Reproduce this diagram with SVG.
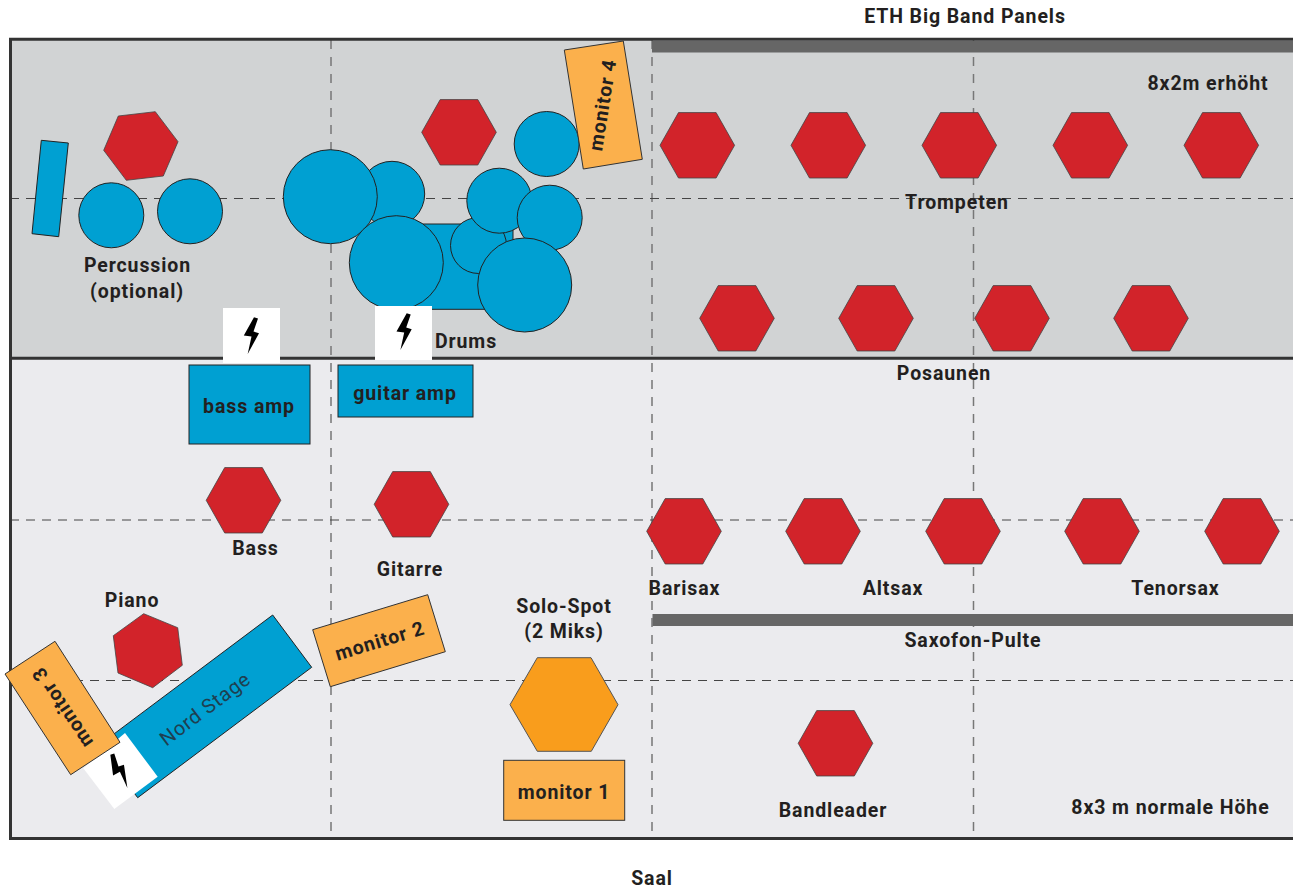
<svg xmlns="http://www.w3.org/2000/svg" width="1293" height="888" viewBox="0 0 1293 888">
<style>
.t{font-family:"Roboto","Liberation Sans",sans-serif;font-weight:700;font-size:19.500px;fill:#231f20;letter-spacing:.9px;text-anchor:middle}
.r{fill:#d2232a;stroke:#444;stroke-width:.8}
.b{fill:#00a0d2;stroke:#222;stroke-width:1}
.o{fill:#fbb04c;stroke:#333;stroke-width:1}
.gv{stroke:#777;stroke-width:1.500;stroke-dasharray:9 8;fill:none}
.gh{stroke:#444;stroke-width:1;stroke-dasharray:9 7;fill:none}
.k{fill:#666}
.w{fill:#fff}
</style>
<defs>
<polygon id="hex" class="r" points="-18.800,-32.700 18.800,-32.700 37.300,0 18.800,32.700 -18.800,32.700 -37.300,0"/>
<polygon id="bolt" fill="#000" points="4,-19.700 8,-18.500 3.500,-5.500 9,-3.700 -2.300,17 1.500,-.5 -6.200,-1.600"/>
</defs>
<rect id="upper" x="10" y="39" width="1290" height="319" fill="#d1d3d4"/>
<rect id="lower" x="10" y="358" width="1290" height="480" fill="#ebebee"/>
<g id="grid">
<path class="gv" d="M331 40V838M652 40V838M973.500 40V838"/>
<path class="gh" d="M10 198.500H1293M10 520H1293M10 680.500H1293"/>
</g>
<path id="frame" d="M1293 39.300H10.500V838.500H1293M10 358.300H1293" fill="none" stroke="#333" stroke-width="3"/>
<rect id="bar1" class="k" x="652" y="41" width="641" height="11.500"/>
<rect id="bar2" class="k" x="652.500" y="614" width="640.500" height="12"/>

<g id="percussion">
<polygon class="b" points="41.300,140.300 68.300,143 58.700,236.700 32,233.700"/>
<circle class="b" cx="111.300" cy="215.300" r="32.500"/>
<circle class="b" cx="190" cy="211.300" r="32.500"/>
<polygon class="r" points="118.300,116 155.300,111.700 178,141.700 163.300,176 126.300,180.300 103.700,150.300"/>
<text class="t" x="137.500" y="272">Percussion</text>
<text class="t" x="137" y="298">(optional)</text>
</g>
<g id="drums">
<use href="#hex" x="459" y="132.300"/>
<rect class="b" x="415" y="224" width="98" height="85.300"/>
<circle class="b" cx="392" cy="194" r="32.700"/>
<circle class="b" cx="330.300" cy="196.700" r="47"/>
<circle class="b" cx="478.500" cy="245.500" r="28"/>
<circle class="b" cx="546.700" cy="144" r="32.500"/>
<circle class="b" cx="499.300" cy="200.700" r="32.500"/>
<circle class="b" cx="549.700" cy="217.700" r="32.500"/>
<circle class="b" cx="396.300" cy="262.700" r="47"/>
<circle class="b" cx="524.700" cy="285" r="47"/>
<text class="t" x="466" y="348">Drums</text>
</g>
<g id="power1"><rect class="w" x="223" y="308" width="57" height="55"/><use href="#bolt" x="250" y="337"/></g>
<g id="power2"><rect class="w" x="375" y="306" width="57" height="54"/><use href="#bolt" x="402.700" y="333"/></g>
<g id="bass-amp"><rect class="b" x="189" y="365" width="121" height="79"/><text class="t" x="249" y="413">bass amp</text></g>
<g id="guitar-amp"><rect class="b" x="338" y="365" width="135" height="52"/><text class="t" x="405" y="400">guitar amp</text></g>
<g id="monitor4"><polygon class="o" points="564.300,50 623.300,41 642.300,159.300 583.300,169"/><text class="t" transform="translate(603.300,105) rotate(-81)" y="6">monitor 4</text></g>

<g id="trompeten">
<use href="#hex" x="697.300" y="145.300"/><use href="#hex" x="828.300" y="145.300"/><use href="#hex" x="959.300" y="145.300"/><use href="#hex" x="1090.300" y="145.300"/><use href="#hex" x="1221.300" y="145.300"/>
<text class="t" x="957" y="209">Trompeten</text>
</g>
<g id="posaunen">
<use href="#hex" x="737" y="318.300"/><use href="#hex" x="876" y="318.300"/><use href="#hex" x="1012" y="318.300"/><use href="#hex" x="1151" y="318.300"/>
<text class="t" x="944" y="380">Posaunen</text>
</g>
<g id="bass"><use href="#hex" x="243.500" y="500.300"/><text class="t" x="255.500" y="555">Bass</text></g>
<g id="gitarre"><use href="#hex" x="411.500" y="504.300"/><text class="t" x="410" y="576">Gitarre</text></g>
<g id="saxes">
<use href="#hex" x="684" y="531.300"/><use href="#hex" x="823" y="531.300"/><use href="#hex" x="963" y="531.300"/><use href="#hex" x="1102" y="531.300"/><use href="#hex" x="1242" y="531.300"/>
<text class="t" x="684.500" y="595">Barisax</text>
<text class="t" x="893" y="595">Altsax</text>
<text class="t" x="1175.500" y="595">Tenorsax</text>
<text class="t" x="973" y="647">Saxofon-Pulte</text>
</g>
<g id="bandleader"><use href="#hex" x="835.500" y="743.300"/><text class="t" x="833" y="817">Bandleader</text></g>
<g id="nord">
<polygon class="b" points="272.700,615 311.700,667.300 137.700,797.700 98.700,745.400"/>
<text transform="translate(205.500,709.500) rotate(-37)" y="6" style="font-family:Roboto,'Liberation Sans',sans-serif;font-size:20px;letter-spacing:.8px;fill:#1f3f50;text-anchor:middle">Nord Stage</text>
</g>
<g id="power3"><polygon class="w" points="125,733 157.700,776.700 114.300,809 83.300,768.300"/><use href="#bolt" transform="translate(119,773) rotate(-37)"/></g>
<g id="piano"><polygon class="r" points="143.700,613.700 177.700,627.700 182.300,665.300 152.700,687.700 118,673 113.300,635.700"/><text class="t" x="132" y="607">Piano</text></g>
<g id="monitor3"><polygon class="o" points="55,641.300 120,742.300 70.700,774.700 5,674"/><text class="t" transform="translate(63,707) rotate(236)" y="6">monitor 3</text></g>
<g id="monitor2"><polygon class="o" points="312.700,629.700 427.700,594.700 445.300,651.700 330.300,686.700"/><text class="t" transform="translate(380,641.500) rotate(-17)" y="6">monitor 2</text></g>
<g id="solo">
<polygon fill="#f99d1c" stroke="#555" points="537.300,657.700 591,657.700 618,704.700 591.300,751.300 537.300,751.300 510,704.700"/>
<text class="t" x="564" y="613">Solo-Spot</text>
<text class="t" x="564" y="638">(2 Miks)</text>
</g>
<g id="monitor1"><rect class="o" x="503.700" y="760.300" width="121" height="60"/><text class="t" x="564" y="799">monitor 1</text></g>
<text class="t" x="965" y="23">ETH Big Band Panels</text>
<text class="t" x="1208" y="90">8x2m erhöht</text>
<text class="t" x="1170.500" y="814">8x3 m normale Höhe</text>
<text class="t" x="652" y="885">Saal</text>
</svg>
